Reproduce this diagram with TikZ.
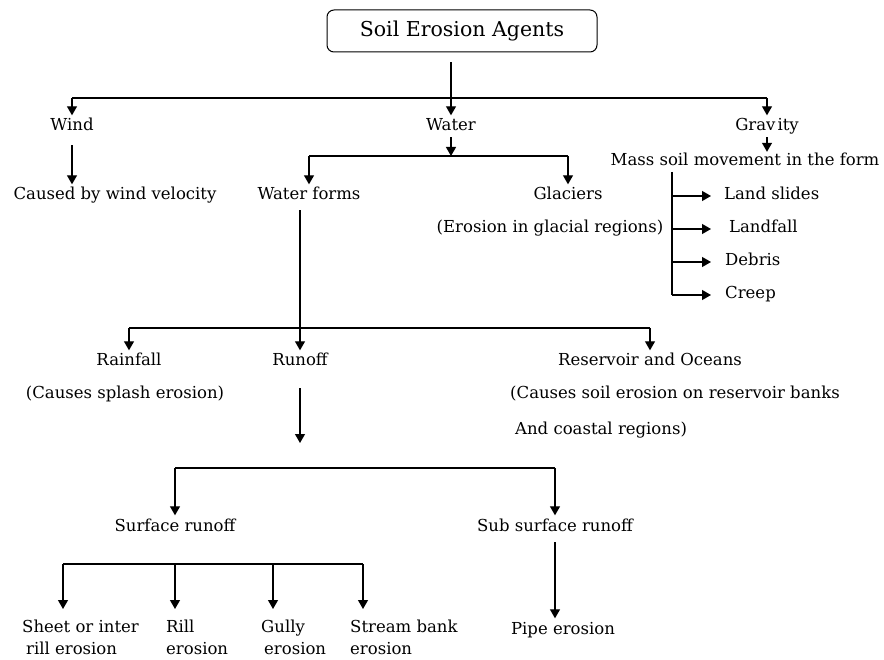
\documentclass[tikz,border=0pt]{standalone}
\usepackage{fontspec}
\setmainfont{DejaVu Serif}
\usetikzlibrary{arrows.meta}
\tikzset{
  lbl/.style={inner sep=2pt, text height=12pt, text depth=4pt, font=\fontsize{16.5}{19}\selectfont},
  mlbl/.style={inner sep=0pt, align=left, anchor=north west, font=\fontsize{16.5}{22}\selectfont},
  ln/.style={line width=1.2pt},
  arr/.style={line width=1.2pt, -{Triangle[width=10pt,length=9pt]}},
  arrn/.style={arr, shorten >=1.5pt},
}
\begin{document}
\begin{tikzpicture}[x=1pt,y=-1pt]
\useasboundingbox (0,0) rectangle (884,660);
% top
\node[draw, rounded corners=7pt, line width=1pt, minimum width=270pt, minimum height=42pt, inner sep=0pt,
      font=\fontsize{20.5}{24}\selectfont] (top) at (462,31) {Soil Erosion Agents};
% level 1
\node[lbl] (wind) at (72,127) {Wind};
\node[lbl] (water) at (451,127) {Water};
\node[lbl] (grav) at (767,127) {Grav\kern2pt ity};
\coordinate (b1) at (451,98);
\draw[ln] (b1 -| wind) -- (b1 -| grav);
\draw[arrn] ([yshift=-10pt]top.south -| water) -- (water.north);
\draw[arrn] (b1 -| wind) -- (wind.north);
\draw[arrn] (b1 -| grav) -- (grav.north);
% wind
\node[lbl] (cwv) at (115,196) {Caused by wind velocity};
\draw[arrn] ([yshift=-8pt]wind.south) -- (cwv.north -| wind);
% water
\node[lbl] (wf) at (309,196) {Water forms};
\node[lbl] (glac) at (568,196) {Glaciers};
\node[lbl] (eg) at (550,229) {(Erosion in glacial regions)};
\coordinate (b2) at (451,156);
\draw[ln] (b2 -| wf) -- (b2 -| glac);
\draw[arr] (water.south) -- (b2);
\draw[arrn] (b2 -| wf) -- (wf.north);
\draw[arrn] (b2 -| glac) -- (glac.north);
% gravity
\node[lbl] (mass) at (745,162) {Mass soil movement in the form};
\draw[arr] (grav.south) -- (mass.north -| grav);
\node[lbl, anchor=west] (ls) at (722,196) {Land slides};
\node[lbl, anchor=west] (lf) at (727,229) {Landfall};
\node[lbl, anchor=west] (deb) at (723,262) {Debris};
\node[lbl, anchor=west] (creep) at (723,295) {Creep};
\coordinate (g0) at (672,172);
\coordinate (gx) at (711,172);
\draw[ln] (g0) -- (g0 |- creep);
\draw[arr] (g0 |- ls) -- (gx |- ls);
\draw[arr] (g0 |- lf) -- (gx |- lf);
\draw[arr] (g0 |- deb) -- (gx |- deb);
\draw[arr] (g0 |- creep) -- (gx |- creep);
% water forms subtree
\node[lbl] (rain) at (129,362) {Rainfall};
\node[lbl] (cse) at (125,395) {(Causes splash erosion)};
\node[lbl] (runoff) at (300,362) {Runoff};
\node[lbl] (res) at (650,362) {Reservoir and Oceans};
\node[lbl, anchor=west] (csr) at (508,395) {(Causes soil erosion on reservoir banks};
\node[lbl, anchor=west] (acr) at (513,430) {And coastal regions)};
\coordinate (b3) at (300,328);
\draw[ln] ([yshift=-4pt]wf.south -| runoff) -- (b3);
\draw[ln] (b3 -| rain) -- (b3 -| res);
\draw[arrn] (b3 -| rain) -- (rain.north);
\draw[arrn] (b3) -- (runoff.north);
\draw[arrn] (b3 -| res) -- (res.north);
% runoff
\coordinate (r1) at (300,443);
\draw[arr] ([yshift=-16pt]runoff.south) -- (r1);
\node[lbl] (sr) at (175,527) {Surface runoff};
\node[lbl] (ssr) at (555,527) {Sub surface runoff};
\coordinate (b4) at (300,468);
\draw[ln] (b4 -| sr) -- (b4 -| ssr);
\draw[arrn] (b4 -| sr) -- (sr.north);
\draw[arrn] (b4 -| ssr) -- (ssr.north);
% sub surface
\node[lbl] (pipe) at (563,630) {Pipe erosion};
\draw[arrn] ([yshift=-5pt]ssr.south) -- (pipe.north -| ssr);
% surface
\node[mlbl] (sheet) at (22,620) {Sheet or inter\\\hspace*{4pt}rill erosion};
\node[mlbl] (rill) at (166,620) {Rill\\erosion};
\node[mlbl] (gully) at (261,620) {Gully\\\hspace*{3pt}erosion};
\node[mlbl] (stream) at (350,620) {Stream bank\\erosion};
\coordinate (b5) at (63,564);
\coordinate (b5a) at (175,564);
\coordinate (b5b) at (273,564);
\coordinate (b5c) at (363,564);
\draw[ln] (b5) -- (b5c);
\draw[arr, shorten >=11pt] (b5) -- (b5 |- sheet.north);
\draw[arr, shorten >=11pt] (b5a) -- (b5a |- rill.north);
\draw[arr, shorten >=11pt] (b5b) -- (b5b |- gully.north);
\draw[arr, shorten >=11pt] (b5c) -- (b5c |- stream.north);
\end{tikzpicture}
\end{document}
